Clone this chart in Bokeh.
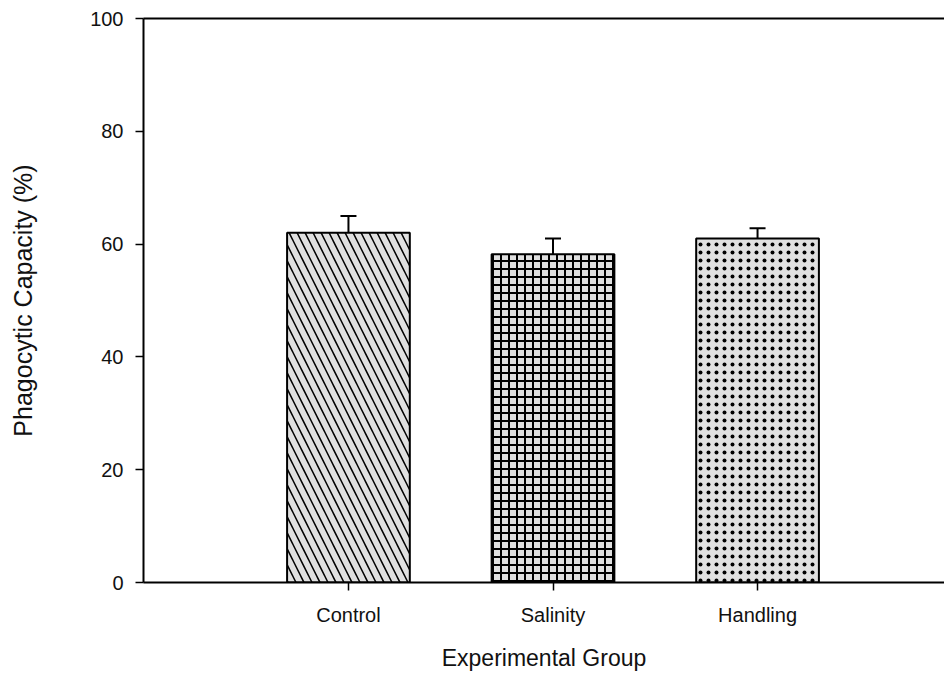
from bokeh.plotting import figure
from bokeh.models import Range1d, FixedTicker, LinearAxis, Whisker, TeeHead, ColumnDataSource
from bokeh.embed import file_html
from bokeh.resources import INLINE

groups = ["Control", "Salinity", "Handling"]
means = [62.0, 58.2, 61.0]
errors = [3.0, 2.8, 1.8]
patterns = ["\\", "+", "."]
y_ticks = [0, 20, 40, 60, 80, 100]

xs = [i + 1 for i in range(len(groups))]
tops = [m + e for m, e in zip(means, errors)]
FONT = "Liberation Sans"

p = figure(width=944, height=674, output_backend="svg", toolbar_location=None,
           x_range=Range1d(-0.002, 3.914), y_range=Range1d(0, 100),
           min_border_left=143, min_border_top=18, min_border_right=0, min_border_bottom=92)
p.outline_line_color = None
p.xgrid.visible = False
p.ygrid.visible = False

scales = {"\\": 16, "+": 8, ".": 8}
weights = {"\\": 1.5, "+": 2, ".": 1.2}
for x, m, pat in zip(xs, means, patterns):
    p.vbar(x=[x], top=[m], bottom=0, width=0.6, fill_color="#e0e0e0",
           line_color="black", line_width=2, hatch_pattern=pat,
           hatch_color="black", hatch_scale=scales[pat], hatch_weight=weights[pat])

src = ColumnDataSource(dict(x=xs, lower=means, upper=tops))
wh = Whisker(base="x", lower="lower", upper="upper", source=src, dimension="height",
             line_color="black", line_width=2,
             upper_head=TeeHead(size=16, line_color="black", line_width=2), lower_head=None)
p.add_layout(wh)

for ax in (p.xaxis[0], p.yaxis[0]):
    ax.axis_line_width = 2
    ax.axis_line_color = "black"
    ax.major_tick_line_color = "black"
    ax.major_tick_line_width = 1.5
    ax.major_tick_out = 8
    ax.major_tick_in = 0
    ax.minor_tick_line_color = None
    ax.major_label_text_font = FONT
    ax.major_label_text_font_size = "20px"
    ax.major_label_text_color = "#111111"
    ax.axis_label_text_font = FONT
    ax.axis_label_text_font_style = "normal"
    ax.axis_label_text_color = "#111111"

p.xaxis.ticker = FixedTicker(ticks=xs)
p.xaxis.major_label_overrides = {x: g for x, g in zip(xs, groups)}
p.xaxis.axis_label = "Experimental Group"
p.xaxis.axis_label_text_font_size = "23px"
p.xaxis.major_label_standoff = 13
p.xaxis.axis_label_standoff = 16

p.yaxis.ticker = FixedTicker(ticks=y_ticks)
p.yaxis.axis_label = "Phagocytic Capacity (%)"
p.yaxis.axis_label_text_font_size = "25px"
p.yaxis.major_label_standoff = 12
p.yaxis.axis_label_standoff = 50

top_ax = LinearAxis(axis_line_width=2, axis_line_color="black",
                    major_tick_line_color=None, minor_tick_line_color=None,
                    major_label_text_font_size="0px")
top_ax.ticker = FixedTicker(ticks=[])
p.add_layout(top_ax, "above")

open("out.html", "w").write(file_html(p, INLINE))
